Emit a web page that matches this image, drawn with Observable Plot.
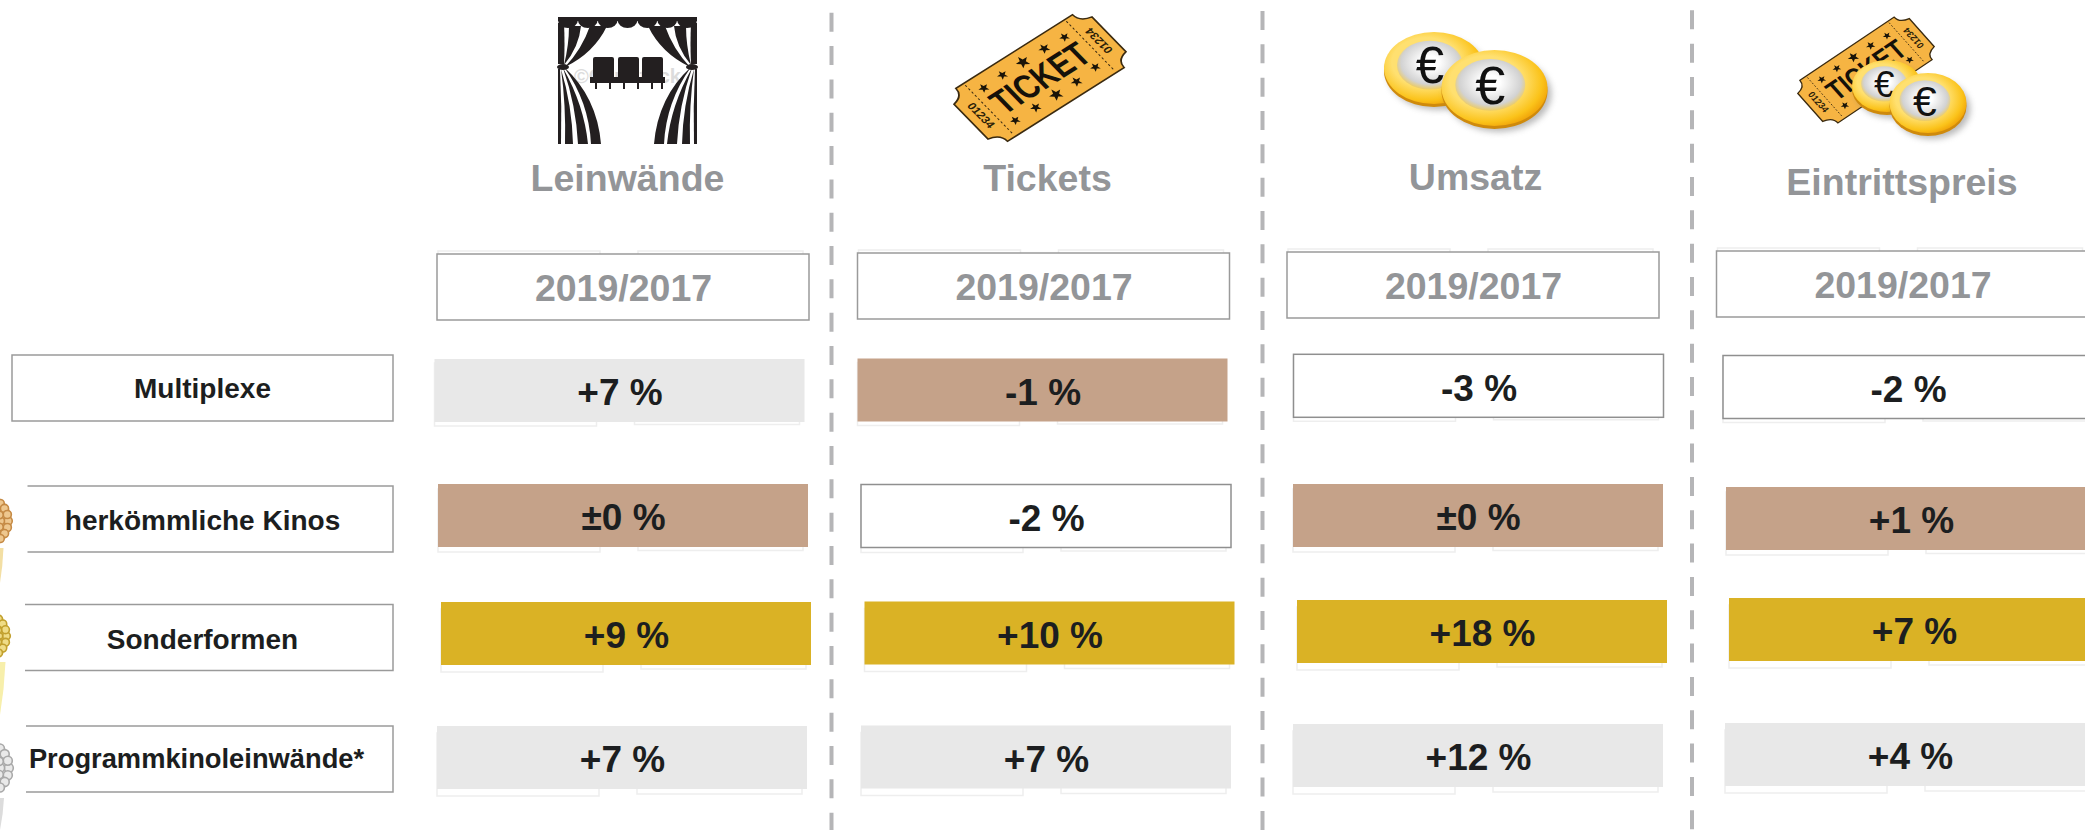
<!DOCTYPE html>
<html lang="de">
<head>
<meta charset="utf-8">
<script src="https://cdn.jsdelivr.net/npm/d3@7"></script>
<script src="https://cdn.jsdelivr.net/npm/@observablehq/plot@0.6"></script>
<style>
html,body{margin:0;padding:0;background:#fff;overflow:hidden}
svg{display:block}
</style>
</head>
<body>
<div id="chart"></div>
<script>
// ---- data ----
const columns = ["Leinwände", "Tickets", "Umsatz", "Eintrittspreis"];
const period = "2019/2017";
const rowNames = ["Multiplexe", "herkömmliche Kinos", "Sonderformen", "Programmkinoleinwände*"];
const multiplexeValues = ["+7 %", "-1 %", "-3 %", "-2 %"];
const herkoemmlicheValues = ["±0 %", "-2 %", "±0 %", "+1 %"];
const sonderformenValues = ["+9 %", "+10 %", "+18 %", "+7 %"];
const programmkinoValues = ["+7 %", "+7 %", "+12 %", "+4 %"];
const multiplexeRanks = ["Rang 2", "Rang 3", "ohne", "ohne"];
const herkoemmlicheRanks = ["Rang 3", "ohne", "Rang 3", "Rang 3"];
const sonderformenRanks = ["Rang 1", "Rang 1", "Rang 1", "Rang 1"];
const programmkinoRanks = ["Rang 2", "Rang 2", "Rang 2", "Rang 2"];
const rankNames = ["Rang 1", "Rang 2", "Rang 3", "ohne"];
const rankColors = ["#dab225", "#e8e8e8", "#c5a289", "#ffffff"];

const allValues = [multiplexeValues, herkoemmlicheValues, sonderformenValues, programmkinoValues];
const allRanks = [multiplexeRanks, herkoemmlicheRanks, sonderformenRanks, programmkinoRanks];

// ---- layout: small hand-placed shifts of the original slide, per row and column ----
const cellShift = [
  [[-0.5,-7.5],[-7.5,-8],[-1.5,-12.2],[-2,-11]],
  [[3,-0.5],[-4,0],[-2,-0.5],[1,2.5]],
  [[6,-0.5],[-0.5,-1],[2,-2.5],[4,-4.5]],
  [[2,5.5],[-4,5],[-2,3.5],[0,2.5]]
];
const headShift = [[3,7],[-6.5,6],[-7,5],[-7.5,4]];
const titleShift = [[7,17],[-3,17],[-5,15.5],[-8.5,20.5]];
const labelDy = [[-10,1],[3,2],[3.5,2.5],[7,0]];
const labelDx = [12,12,12,6];
const labelSize = [28,28,28,27.3];
const ghostDyLeft = [4,5,7,7];
const ghostDyRight = [2.5,3.5,4,5];
const dashPhase = [20.6, 22.3, 23];
const dashDx = [211, 212, 211.5];

const ink = "#1c1e20", gray = "#939598", boxStroke = "#9a9a9a", ghost = "#eeeeee";
const font = {fontFamily:"Liberation Sans", fontWeight:"bold"};

// ---- decorative pictures ----
function star(x,y,r){
  const p=[];
  for(let i=0;i<10;i++){const a=-Math.PI/2+i*Math.PI/5,q=i%2?r*.42:r;p.push((x+q*Math.cos(a)).toFixed(1)+","+(y+q*Math.sin(a)).toFixed(1));}
  return `<polygon points="${p.join(" ")}" fill="#1a1408"/>`;
}
function ticket(m){
  const stars=[[-42,-19,4.6],[-22,-20,4.6],[-1,-20,6],[21,-20,5],[41,-19,4.4],[-42,20,4.4],[-21,20,4.8],[0,20,6],[21,20,5],[42,18,4.4]];
  return `<g transform="matrix(${m.join(",")})">
  <path d="M-60,-32H60C60,-25 66,-22 71,-21L71,21C66,22 60,25 60,32H-60C-60,25 -66,22 -71,21L-71,-21C-66,-22 -60,-25 -60,-32Z" fill="#f6b443" stroke="#3a2a10" stroke-width="1.4"/>
  <path d="M-52,-30V30M52,-30V30" stroke="#3a2a10" stroke-width=".9" stroke-dasharray="2 2" fill="none"/>
  ${stars.map(s=>star(...s)).join("")}
  <text x="0" y="11" text-anchor="middle" font-family="Liberation Sans" font-weight="bold" font-size="32" textLength="92" lengthAdjust="spacingAndGlyphs" fill="#15110a">TICKET</text>
  <text transform="translate(-61,0) rotate(90)" text-anchor="middle" y="3" font-family="Liberation Sans" font-weight="bold" font-size="10" fill="#2a2008">01234</text>
  <text transform="translate(61,0) rotate(-90)" text-anchor="middle" y="3" font-family="Liberation Sans" font-weight="bold" font-size="10" fill="#2a2008">01234</text>
  </g>`;
}
let coinId=0;
function coin(cx,cy,rx,ry){
  const id=coinId++;
  const fs=(ry*1.42).toFixed(1);
  return `<defs>
  <radialGradient id="rim${id}" cx=".42" cy=".42" r=".62"><stop offset=".55" stop-color="#ffe070"/><stop offset=".85" stop-color="#fbc31a"/><stop offset="1" stop-color="#f0a208"/></radialGradient>
  <radialGradient id="mid${id}" cx=".5" cy=".45" r=".55"><stop offset=".25" stop-color="#ffffff"/><stop offset=".8" stop-color="#d2d2d2"/><stop offset="1" stop-color="#eccb62"/></radialGradient>
  <filter id="blur${id}" x="-30%" y="-30%" width="160%" height="160%"><feGaussianBlur stdDeviation="3"/></filter>
  </defs>
  <ellipse cx="${cx+4}" cy="${cy+6}" rx="${rx}" ry="${ry}" fill="#777" opacity=".5" filter="url(#blur${id})"/>
  <ellipse cx="${cx}" cy="${cy+3}" rx="${rx}" ry="${ry}" fill="#cf8a0c"/>
  <ellipse cx="${cx}" cy="${cy}" rx="${rx}" ry="${ry}" fill="url(#rim${id})"/>
  <ellipse cx="${cx-rx*.08}" cy="${cy-ry*.08}" rx="${rx*.66}" ry="${ry*.68}" fill="url(#mid${id})"/>
  <text x="${cx-rx*.08}" y="${cy-ry*.08+ry*.5}" text-anchor="middle" font-family="Liberation Sans" font-size="${fs}" fill="#111">€</text>`;
}
function curtain(x,y){
  const w=139/7;
  const scallops=d3.range(7).map(i=>`<path d="M${(i*w).toFixed(1)},3A${(w/2).toFixed(1)},8 0 0 0 ${((i+1)*w).toFixed(1)},3Z"/>`).join("");
  const half=`
  <path d="M0,6H6Q7,28 6,47L0,47Z"/>
  <path d="M11,9H23Q21,30 6,48Q11,28 11,9Z"/>
  <path d="M32,9H49Q36,36 7,50Q24,32 32,9Z"/>
  <path d="M0,52H2Q4,90 3,127H0Z"/>
  <path d="M3,52Q14,88 15,127H7Q8,88 3,52Z"/>
  <path d="M5,51Q26,88 30,127H20Q18,88 5,51Z"/>
  <path d="M6,50Q39,80 43,127H33Q31,85 6,50Z"/>
  <ellipse cx="5" cy="50" rx="6" ry="3"/>`;
  const seats=[35,60,84].map(s=>`<path d="M${s+2},40H${s+19}Q${s+21},40 ${s+21},42V62H${s}V42Q${s},40 ${s+2},40Z"/>`).join("")
    +`<rect x="32" y="60" width="75" height="6"/>`
    +[37,51,65,79,93,103].map(s=>`<rect x="${s}" y="66" width="2" height="6"/>`).join("");
  return `<g transform="translate(${x},${y})" fill="#231f20">
  <text x="69.5" y="66" text-anchor="middle" font-family="Liberation Sans" font-weight="bold" font-size="20" fill="#dcdcdc">©CanStock</text>
  <rect width="139" height="4"/>${scallops}
  <g>${half}</g><g transform="translate(139,0) scale(-1,1)">${half}</g>${seats}</g>`;
}
function medal(cx,cy,r,line,fill,ribbon,rw,rTop,rBottom,coverW,coverTop,coverBottom){
  const ring=(q,c,n)=>d3.range(n).map(i=>{const a=i*2*Math.PI/n;return `<circle cx="${(cx+q*Math.cos(a)).toFixed(1)}" cy="${(cy+q*Math.sin(a)).toFixed(1)}" r="${c}" fill="${fill}" stroke="${line}" stroke-width="1.6"/>`;}).join("");
  return `<rect x="0" y="${coverTop}" width="${coverW}" height="${coverBottom-coverTop}" fill="#fff"/>
  <path d="M0,${rTop}H${rw}Q${rw*.8},${(rTop+rBottom)/2} 0,${rBottom}Z" fill="${ribbon}"/>
  <circle cx="${cx}" cy="${cy}" r="${r}" fill="${fill}"/>${ring(r*.86,r*.15,22)}${ring(r*.58,r*.14,16)}`;
}
function picture(content){
  return () => {
    const g=document.createElementNS("http://www.w3.org/2000/svg","g");
    g.innerHTML=content;
    return g;
  };
}

// ---- table marks ----
const titleRow = "Kennzahl", headRow = "Zeitraum", labelCol = "Zeile";
const cellMarks = rowNames.flatMap((row,r)=>columns.flatMap((col,c)=>{
  const [dx,dy]=cellShift[r][c];
  const d=[{row,col,value:allValues[r][c],rank:allRanks[r][c]}];
  return [
    Plot.cell(d,{x:"col",y:"row",fill:"#fff",stroke:ghost,strokeWidth:1.5,dx,dy:dy+ghostDyLeft[r],insetRight:208}),
    Plot.cell(d,{x:"col",y:"row",fill:"#fff",stroke:ghost,strokeWidth:1.5,dx,dy:dy+ghostDyRight[r],insetLeft:200,insetRight:5}),
    Plot.cell(d,{x:"col",y:"row",fill:"rank",stroke:dd=>dd.rank==="ohne"?"#8f8f8f":"none",strokeWidth:1.5,dx,dy}),
    Plot.text(d,{x:"col",y:"row",text:"value",fill:ink,fontSize:37,...font,dx,dy:dy+2.5})
  ];
}));
const headMarks = columns.flatMap((col,c)=>{
  const [dx,dy]=headShift[c];
  const [tx,ty]=titleShift[c];
  const d=[{col,period}];
  return [
    Plot.cell(d,{x:"col",y:()=>headRow,fill:"#fff",stroke:ghost,strokeWidth:1.5,dx,dy:dy-3,insetRight:208,insetTop:-1.5,insetBottom:-1.5}),
    Plot.cell(d,{x:"col",y:()=>headRow,fill:"#fff",stroke:ghost,strokeWidth:1.5,dx,dy:dy-3,insetLeft:200,insetRight:5,insetTop:-1.5,insetBottom:-1.5}),
    Plot.cell(d,{x:"col",y:()=>headRow,fill:"#fff",stroke:boxStroke,strokeWidth:1.5,dx,dy,insetLeft:-1,insetRight:-1,insetTop:-1.5,insetBottom:-1.5}),
    Plot.text(d,{x:"col",y:()=>headRow,text:"period",fill:gray,fontSize:37.5,...font,dx,dy:dy+1.8}),
    Plot.text(d,{x:"col",y:()=>titleRow,text:"col",fill:gray,fontSize:37.5,...font,dx:tx,dy:ty-0.5})
  ];
});
const labelBoxes = rowNames.map((row,r)=>
  Plot.cell([row],{x:()=>labelCol,y:d=>d,fill:"#fff",stroke:boxStroke,strokeWidth:1.5,dx:18,dy:labelDy[r][0],insetLeft:-11,insetTop:-1.5,insetBottom:-1.5})
);
const labelTexts = rowNames.map((row,r)=>
  Plot.text([row],{x:()=>labelCol,y:d=>d,text:d=>d,fill:ink,fontSize:labelSize[r],...font,dx:labelDx[r],dy:labelDy[r][0]+labelDy[r][1]})
);
const dashMarks = columns.slice(0,3).map((col,i)=>Plot.ruleX([col],{x:d=>d,dx:dashDx[i],stroke:"#b5b5b7",strokeWidth:4,strokeDasharray:"19 14.33",strokeDashoffset:dashPhase[i]}));

const pictures = picture(
  curtain(558,17)
  + ticket([.972,-.615,.808,.827,1040,78])
  + coin(1434,68,50,36) + coin(1494.5,88,53,38)
  + ticket([.785,-.527,.593,.665,1866,70])
  + coin(1887,86,35,26) + coin(1928,103,38.5,30)
);
const medals = picture(
  medal(-15,521,27,"#c58a45","#eec78e","#f3dfa4",3.5,548,583,27.5,482,556)
  + medal(-16,636,26,"#c2a02e","#efdc86","#f7efab",5.5,662,715,25,600,676)
  + medal(-17,768,30,"#a9a9a9","#e9e9e9","#dcdcdc",4,798,830,26,722,798)
);

const chart = Plot.plot({
  width:2085, height:830,
  marginTop:0, marginRight:0, marginBottom:0, marginLeft:0,
  style:{background:"#fff",fontFamily:"Liberation Sans"},
  x:{type:"band",axis:null,domain:[labelCol,...columns],range:[5,2095],paddingInner:60/430,paddingOuter:0,round:false},
  y:{type:"band",axis:null,domain:[titleRow,headRow,...rowNames],range:[130.5,783.5],paddingInner:55/118,paddingOuter:0,round:false},
  color:{type:"ordinal",domain:rankNames,range:rankColors},
  marks:[
    ...dashMarks,
    ...labelBoxes,
    medals,
    ...labelTexts,
    ...headMarks,
    ...cellMarks,
    pictures
  ]
});
document.getElementById("chart").append(chart);
</script>
</body>
</html>
